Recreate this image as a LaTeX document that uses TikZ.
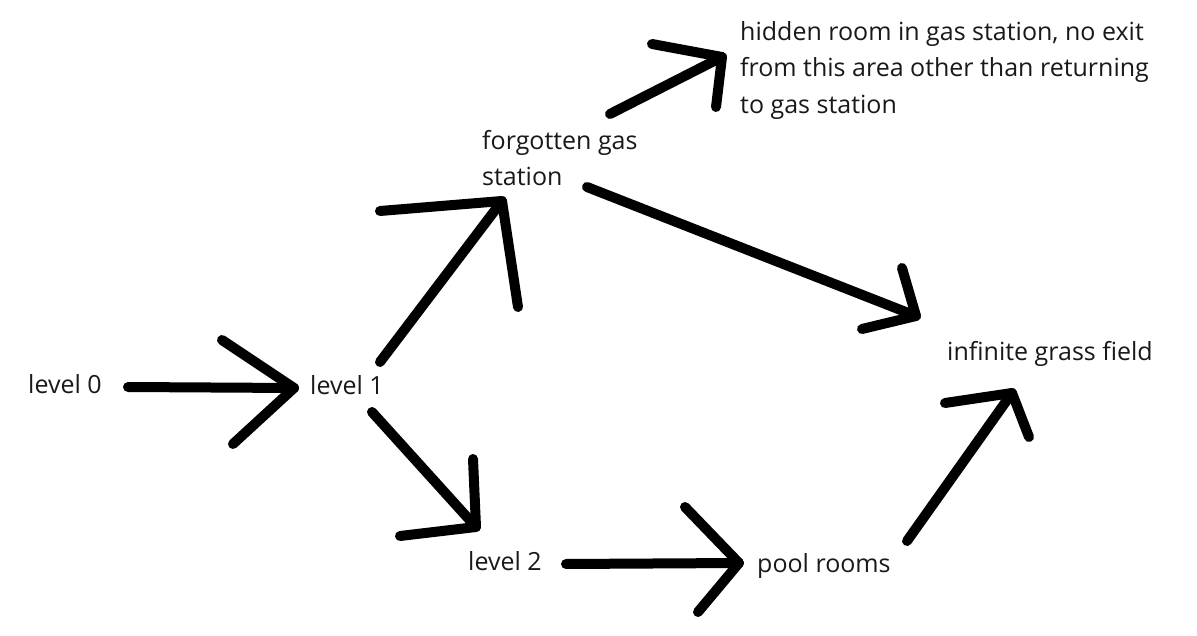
\documentclass[tikz,border=0pt]{standalone}
\usepackage{fontspec}
\setmainfont{Open Sans}
\begin{document}
\begin{tikzpicture}[x=1pt,y=-1pt,
  lbl/.style={inner sep=0pt,font=\fontsize{25}{36.5}\selectfont,text=black!90},
  stroke/.style={line width=10pt,line cap=round,line join=round}]
\useasboundingbox[fill=white] (0,0) rectangle (1197,636);
% labels
\node[lbl,anchor=base west] (l0) at (28,393) {level 0};
\node[lbl,anchor=base west] (l1) at (310,394) {level 1};
\node[lbl,anchor=base west] (l2) at (468,570) {level 2};
\node[lbl,anchor=base west] (pool) at (757,572) {pool rooms};
\node[lbl,anchor=base west] (grass) at (947,360) {infinite grass field};
\node[lbl,anchor=north west,align=left] (gas) at (482,130) {forgotten gas\\station};
\node[lbl,anchor=north west,align=left] (hidden) at (740,21) {hidden room in gas station, no exit\\from this area other than returning\\to gas station};
% arrow points
\coordinate (a1s) at (128,387); \coordinate (a1t) at (294,388);
\coordinate (a1u) at (222,340); \coordinate (a1d) at (233,444);
\coordinate (a2s) at (380,362); \coordinate (a2t) at (502,201);
\coordinate (a2u) at (380,211); \coordinate (a2d) at (518,307);
\coordinate (a3s) at (610,114); \coordinate (a3t) at (722,57);
\coordinate (a3u) at (652,44);  \coordinate (a3d) at (716,107);
\coordinate (a4s) at (587,187); \coordinate (a4t) at (916,316);
\coordinate (a4u) at (902,268); \coordinate (a4d) at (862,329);
\coordinate (a5s) at (372,412); \coordinate (a5t) at (476,527);
\coordinate (a5u) at (473,459); \coordinate (a5d) at (400,536);
\coordinate (a6s) at (566,564); \coordinate (a6t) at (739,563);
\coordinate (a6u) at (685,507); \coordinate (a6d) at (698,612);
\coordinate (a7s) at (907,541); \coordinate (a7t) at (1012,393);
\coordinate (a7u) at (945,403); \coordinate (a7d) at (1029,437);
\foreach \a in {a1,a2,a3,a4,a5,a6,a7}{
  \draw[stroke] (\a s) -- (\a t);
  \draw[stroke] (\a u) -- (\a t) -- (\a d);
}
\end{tikzpicture}
\end{document}
